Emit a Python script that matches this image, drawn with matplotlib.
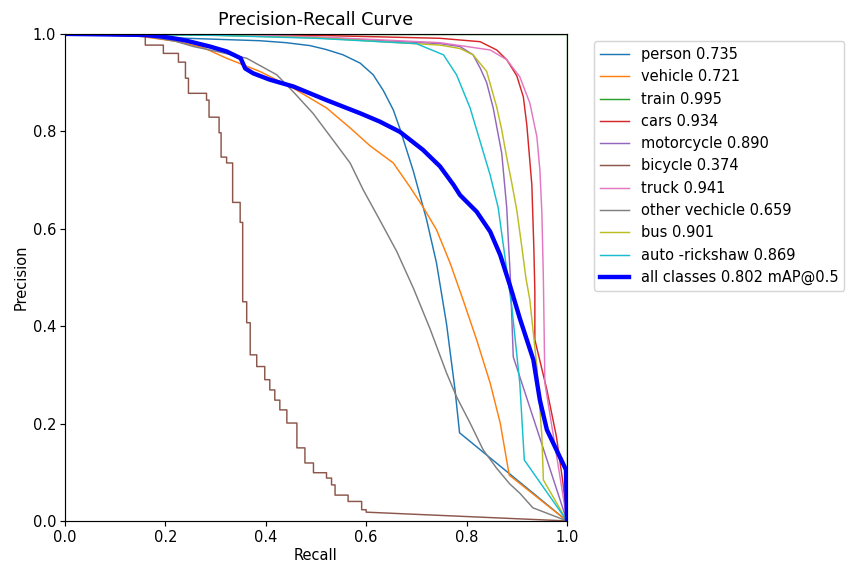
import matplotlib
matplotlib.use("Agg")
import matplotlib.pyplot as plt
import numpy as np

names = ["person", "vehicle", "train", "cars", "motorcycle", "bicycle",
         "truck", "other vechicle", "bus", "auto -rickshaw"]
ap = [0.735, 0.721, 0.995, 0.934, 0.890, 0.374, 0.941, 0.659, 0.901, 0.869]
map50 = 0.802

# person
person_r = [0, 0.1, 0.242, 0.388, 0.440, 0.488, 0.520, 0.554, 0.588, 0.614, 0.634,
            0.654, 0.667, 0.694, 0.720, 0.740, 0.760, 0.777, 0.786, 1.0]
person_p = [1.0, 0.997, 0.991, 0.986, 0.982, 0.976, 0.968, 0.957, 0.940, 0.916, 0.884,
            0.844, 0.806, 0.718, 0.620, 0.530, 0.405, 0.269, 0.181, 0.0]
# vehicle
vehicle_r = [0, 0.15, 0.22, 0.275, 0.322, 0.388, 0.454, 0.521, 0.568, 0.608, 0.654,
             0.687, 0.713, 0.740, 0.767, 0.793, 0.820, 0.847, 0.867, 0.885, 1.0]
vehicle_p = [1.0, 0.995, 0.985, 0.972, 0.950, 0.923, 0.889, 0.848, 0.807, 0.770, 0.735,
             0.686, 0.645, 0.598, 0.530, 0.454, 0.372, 0.283, 0.201, 0.094, 0.0]
# train
train_r = [0, 0.5, 1.0, 1.0]
train_p = [1.0, 1.0, 1.0, 0.0]
# cars
cars_r = [0, 0.3, 0.5, 0.747, 0.827, 0.860, 0.880, 0.900, 0.913, 0.920, 0.930, 0.934,
          0.936, 0.936, 0.960, 0.979, 0.992, 1.0]
cars_p = [1.0, 0.999, 0.997, 0.991, 0.984, 0.967, 0.947, 0.914, 0.871, 0.813, 0.690,
          0.560, 0.471, 0.372, 0.269, 0.173, 0.078, 0.0]
# motorcycle
motor_r = [0, 0.3, 0.5, 0.747, 0.787, 0.813, 0.827, 0.840, 0.853, 0.870, 0.880, 0.884,
           0.887, 0.893, 1.0]
motor_p = [1.0, 0.998, 0.993, 0.980, 0.974, 0.957, 0.930, 0.900, 0.848, 0.755, 0.643,
           0.560, 0.505, 0.337, 0.0]
# bicycle (steps)
bike_r = [0, 0.16, 0.196, 0.226, 0.240, 0.246, 0.282, 0.287, 0.307, 0.311, 0.322,
          0.334, 0.349, 0.354, 0.362, 0.369, 0.382, 0.398, 0.408, 0.418, 0.428, 0.442,
          0.462, 0.478, 0.495, 0.521, 0.531, 0.538, 0.564, 0.591, 0.600]
bike_p = [1.0, 0.977, 0.960, 0.942, 0.909, 0.878, 0.864, 0.829, 0.797, 0.747, 0.735,
          0.654, 0.613, 0.450, 0.407, 0.341, 0.317, 0.290, 0.269, 0.248, 0.228, 0.201,
          0.150, 0.119, 0.099, 0.088, 0.074, 0.053, 0.040, 0.023, 0.018]
# truck
truck_r = [0, 0.3, 0.5, 0.747, 0.847, 0.880, 0.906, 0.926, 0.940, 0.946, 0.950, 0.953,
           0.956, 0.986, 1.0]
truck_p = [1.0, 0.998, 0.994, 0.982, 0.967, 0.947, 0.912, 0.858, 0.789, 0.721, 0.632,
           0.495, 0.283, 0.091, 0.0]
# other vechicle
other_r = [0, 0.15, 0.22, 0.256, 0.302, 0.362, 0.422, 0.454, 0.494, 0.534, 0.568,
           0.594, 0.627, 0.661, 0.694, 0.727, 0.760, 0.780, 0.807, 0.833, 0.860, 0.886,
           0.906, 0.932, 1.0]
other_p = [1.0, 0.997, 0.985, 0.974, 0.964, 0.950, 0.916, 0.882, 0.837, 0.782, 0.735,
           0.680, 0.618, 0.553, 0.478, 0.395, 0.304, 0.255, 0.201, 0.146, 0.108, 0.076,
           0.057, 0.027, 0.0]
# bus
bus_r = [0, 0.3, 0.5, 0.747, 0.787, 0.813, 0.840, 0.860, 0.870, 0.880, 0.890, 0.900,
         0.910, 0.918, 0.926, 0.940, 0.950, 0.953, 1.0]
bus_p = [1.0, 0.997, 0.992, 0.977, 0.970, 0.957, 0.923, 0.850, 0.803, 0.746, 0.694,
         0.638, 0.563, 0.500, 0.454, 0.317, 0.173, 0.084, 0.0]
# auto -rickshaw
auto_r = [0, 0.3, 0.5, 0.700, 0.754, 0.780, 0.807, 0.827, 0.847, 0.863, 0.876, 0.890,
          0.906, 0.915, 1.0]
auto_p = [1.0, 0.997, 0.991, 0.980, 0.957, 0.916, 0.848, 0.779, 0.710, 0.643, 0.545,
          0.440, 0.283, 0.125, 0.0]
# all classes
all_r = [0, 0.155, 0.19, 0.222, 0.242, 0.289, 0.322, 0.350, 0.359, 0.375, 0.408, 0.455,
         0.521, 0.588, 0.627, 0.667, 0.713, 0.747, 0.774, 0.787, 0.820, 0.847, 0.867,
         0.886, 0.906, 0.933, 0.946, 0.960, 0.979, 0.998, 1.0]
all_p = [1.0, 0.998, 0.995, 0.990, 0.986, 0.974, 0.964, 0.950, 0.929, 0.919, 0.906,
         0.892, 0.864, 0.837, 0.820, 0.799, 0.762, 0.728, 0.690, 0.669, 0.635, 0.594,
         0.546, 0.485, 0.416, 0.331, 0.248, 0.187, 0.146, 0.105, 0.0]


def steps(r, p):
    # turn level starts into drawn vertices, tail goes linearly to (1, 0)
    xs, ys = [r[0]], [p[0]]
    for i in range(1, len(r)):
        xs += [r[i], r[i]]
        ys += [p[i - 1], p[i]]
    xs.append(1.0)
    ys.append(0.0)
    return xs, ys


bx, by = steps(bike_r, bike_p)
curves = [(person_r, person_p), (vehicle_r, vehicle_p), (train_r, train_p),
          (cars_r, cars_p), (motor_r, motor_p), (bx, by), (truck_r, truck_p),
          (other_r, other_p), (bus_r, bus_p), (auto_r, auto_p)]
colors = ["tab:blue", "tab:orange", "tab:green", "tab:red", "tab:purple",
          "tab:brown", "tab:pink", "tab:gray", "tab:olive", "tab:cyan"]

dpi = 105
fig = plt.figure(figsize=(847 / dpi, 565 / dpi), dpi=dpi)
ax = fig.add_axes([0.0767, 0.078, 0.5927, 0.862])
for (r, p), c, n, a in zip(curves, colors, names, ap):
    ax.plot(r, p, linewidth=1, color=c, label=f"{n} {a:.3f}")
ax.plot(all_r, all_p, linewidth=3, color="blue", label=f"all classes {map50:.3f} mAP@0.5")

ax.tick_params(axis="both", pad=2.5)
ax.set_xlabel("Recall", labelpad=2)
ax.set_ylabel("Precision", labelpad=3)
ax.set_xlim(0, 1)
ax.set_ylim(0, 1)
ax.set_title("Precision-Recall Curve")
ax.legend(bbox_to_anchor=(1.04, 1), loc="upper left")
fig.savefig("out.png", dpi=dpi)
